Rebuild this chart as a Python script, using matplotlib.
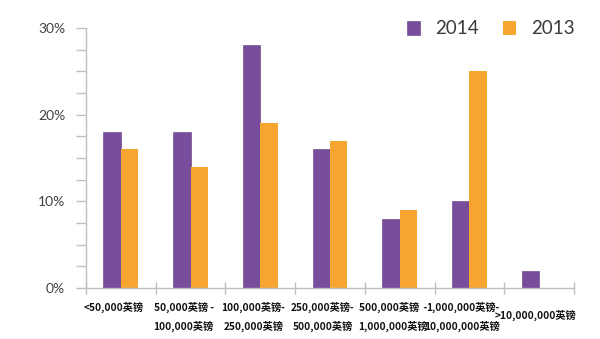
import matplotlib
matplotlib.use("Agg")
import matplotlib.pyplot as plt
import matplotlib.transforms as mtransforms
from matplotlib.ticker import MultipleLocator, FixedLocator
import numpy as np

categories = ["<50,000英镑",
              "50,000英镑 -\n100,000英镑",
              "100,000英镑-\n250,000英镑",
              "250,000英镑-\n500,000英镑",
              "500,000英镑  -\n1,000,000英镑",
              "1,000,000英镑-\n10,000,000英镑",
              ">10,000,000英镑"]
series_names = ["2014", "2013"]
values_2014 = [18, 18, 28, 16, 8, 10, 2]
values_2013 = [16, 14, 19, 17, 9, 25, 0]
y_ticks = [0, 10, 20, 30]
y_tick_labels = ["0%", "10%", "20%", "30%"]

purple = "#784D9B"
orange = "#F6A530"
axis_gray = "#BFBFBF"

fig = plt.figure(figsize=(6.0, 3.39), dpi=100)
ax = fig.add_axes([86/600, 1-288/339, (574-86)/600, (288-28)/339])

x = np.arange(len(categories))
w = 0.25
ax.bar(x - w/2, values_2014, width=w, color=purple, edgecolor="#5E3A7E", linewidth=0.4, label=series_names[0])
ax.bar(x + w/2, [v if v > 0 else np.nan for v in values_2013], width=w, color=orange, label=series_names[1])

ax.set_xlim(-0.5, len(categories) - 0.5)
ax.set_ylim(0, 30)

for s in ["top", "right"]:
    ax.spines[s].set_visible(False)
for s in ["left", "bottom"]:
    ax.spines[s].set_color(axis_gray)
    ax.spines[s].set_linewidth(1.0)

ax.yaxis.set_major_locator(FixedLocator(y_ticks))
ax.set_yticklabels(y_tick_labels)
ax.yaxis.set_minor_locator(MultipleLocator(2.5))
ax.tick_params(axis="y", which="both", direction="out", length=7, color=axis_gray, width=1.0)
ax.tick_params(axis="y", which="major", pad=8, labelsize=10, labelcolor="#404040")
for lab in ax.get_yticklabels():
    lab.set_family(["Lato", "DejaVu Sans"])

# x: boundary ticks, labels at centers
ax.set_xticks(np.arange(len(categories) + 1) - 0.5)
ax.set_xticklabels([])
ax.tick_params(axis="x", which="major", direction="inout", length=9, color=axis_gray, width=1.0)
ax.set_xticks(x, minor=True)
ax.set_xticklabels(categories, minor=True)
ax.tick_params(axis="x", which="minor", length=0, pad=10, labelsize=7.3)
n = len(categories)
for i, lab in enumerate(ax.get_xticklabels(minor=True)):
    lab.set_family(["Noto Sans CJK SC", "DejaVu Sans"])
    lab.set_fontweight("bold")
    lab.set_linespacing(1.85)
    lab.set_color("#111111")
    dx, dy = -7, 0
    if i == n - 1:
        dx, dy = -4, -8
    lab.set_transform(lab.get_transform() + mtransforms.ScaledTranslation(dx/100, dy/100, fig.dpi_scale_trans))

leg = fig.legend(loc="center right", bbox_to_anchor=(582/600, 1-29/339), ncol=2,
                 frameon=False, handlelength=0.7, handleheight=0.7,
                 handletextpad=0.8, columnspacing=1.3, borderaxespad=0,
                 prop={"family": ["Lato", "DejaVu Sans"], "size": 13.5})
for t in leg.get_texts():
    t.set_color("#3A3A3A")

fig.savefig("out.png", dpi=100)
